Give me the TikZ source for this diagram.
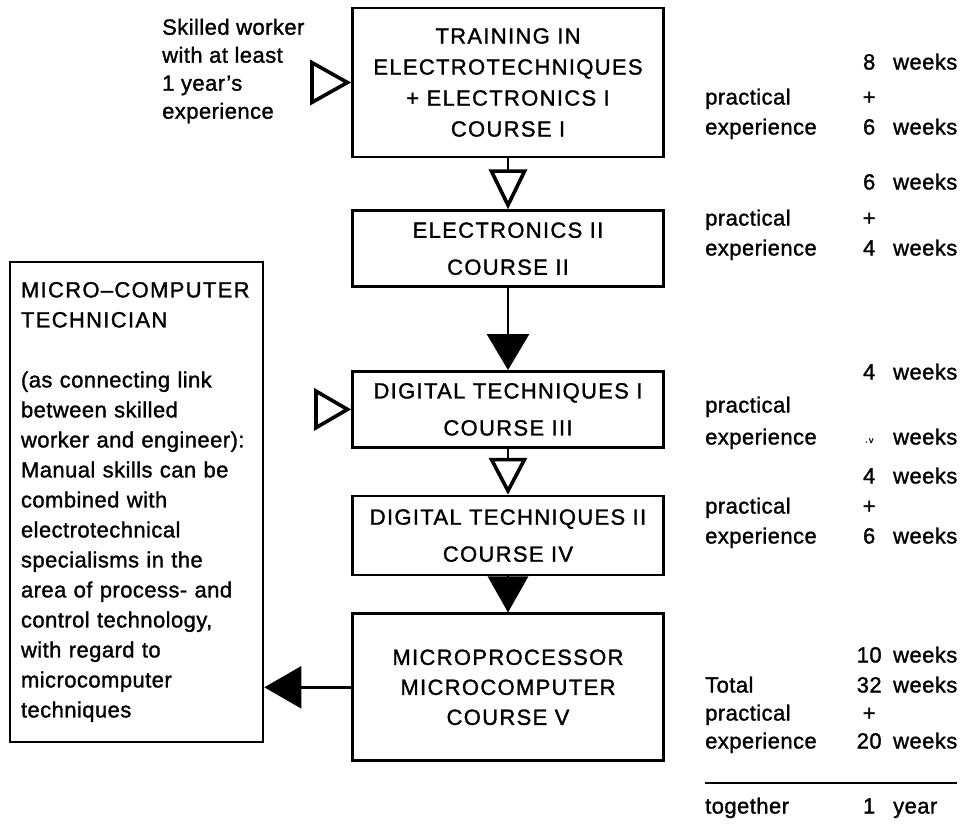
\documentclass[tikz,border=0pt]{standalone}
\usepackage{fontspec}
\setmainfont[LetterSpace=2, FakeBold=1.3]{Liberation Sans}
\newfontfamily\capsfont[LetterSpace=6, FakeBold=1.3, Ligatures=TeX]{Liberation Sans}
\usetikzlibrary{positioning,arrows.meta}

\newcommand{\plainfont}{\fontsize{22}{30}\selectfont}
\newcommand{\wkmark}{{\fontsize{9}{9}\selectfont ·\kern1pt\raisebox{.3ex}{v}}}

\begin{document}
\begin{tikzpicture}[x=1pt, y=-1pt,
    course/.style = {draw, line width=2.7pt, align=center, minimum width=311pt, inner sep=0pt,
                     font=\capsfont\fontsize{22}{31}\selectfont},
    twoline/.style = {font=\capsfont\fontsize{22}{37}\selectfont},
    note/.style = {align=left, inner sep=0pt, font=\fontsize{22}{28}\selectfont},
    row/.style = {anchor=base west, inner sep=0pt, font=\plainfont},
    openhead/.style 2 args = {line width=2.7pt, -{Triangle[open, length=#1, width=#2, line width=3.6pt]}},
    fullhead/.style 2 args = {line width=2.7pt, -{Triangle[length=#1, width=#2]}}]
    \useasboundingbox (0,0) rectangle (966,830);

    % course chain
    \node[course, minimum height=149pt] (train) at (508,82.5) {TRAINING IN\\ELECTROTECHNIQUES\\+ ELECTRONICS I\\COURSE I};
    \node[course, twoline, minimum height=76pt] (elec) [below=51pt of train] {ELECTRONICS II\\COURSE II};
    \node[course, twoline, minimum height=76pt] (digone) [below=82pt of elec] {DIGITAL TECHNIQUES I\\COURSE III};
    \node[course, twoline, minimum height=79pt] (digtwo) [below=46pt of digone] {DIGITAL TECHNIQUES II\\COURSE IV};
    \node[course, minimum height=147pt, font=\capsfont\fontsize{22}{30}\selectfont] (micro) [below=36pt of digtwo]
        {MICROPROCESSOR\\MICROCOMPUTER\\COURSE V};

    % entry and result
    \node[note, anchor=west] (skilled) at (162,71) {Skilled worker\\with at least\\1 year's\\experience};
    \node[draw, line width=2.7pt, align=left, text width=231pt, minimum height=480pt, inner sep=11pt,
          font=\fontsize{22}{30}\selectfont] (tech) at (136.5,502)
        {{\capsfont\mbox{MICRO–COMPUTER}\\TECHNICIAN}\\[30pt](as connecting link\\between skilled\\worker and engineer):\\Manual skills can be\\combined with\\electrotechnical\\specialisms in the\\area of process- and\\control technology,\\with regard to\\microcomputer\\techniques};

    \coordinate (entryone) at ([xshift=-39pt]train.west);
    \coordinate (entrytwo) at ([xshift=-35pt]digone.west);

    \draw[openhead={41pt}{45pt}] (entryone) -- (train);
    \draw[openhead={40pt}{38pt}] (train) -- (elec);
    \draw[fullhead={36pt}{42pt}] (elec) -- (digone);
    \draw[openhead={37pt}{42pt}] (entrytwo) -- (digone);
    \draw[openhead={37pt}{38pt}] (digone) -- (digtwo);
    \draw[fullhead={36pt}{40pt}] (digtwo) -- (micro);
    \draw[fullhead={37pt}{42pt}] (micro) -- (micro -| tech.east);

    % weeks per course
    \foreach \y/\lab/\num/\unit [count=\i] in {69.5//8/weeks, 104.5/practical/+/, 134.5/experience/6/weeks,
        189.5//6/weeks, 225.5/practical/+/, 255.5/experience/4/weeks,
        379.5//4/weeks, 412.5/practical//, 444.5/experience/\wkmark/weeks,
        483.5//4/weeks, 513.5/practical/+/, 543.5/experience/6/weeks,
        662.5//10/weeks, 692.5/Total/32/weeks, 720.5/practical/+/, 748.5/experience/20/weeks,
        813.5/together/1/year}
      \node[row] (row\i) at (705,\y) {\makebox[152pt][l]{\lab}\makebox[24pt]{\num}\hspace{12pt}\unit};
    \draw[line width=2pt] (705,783) -- (957,783);
\end{tikzpicture}
\end{document}
